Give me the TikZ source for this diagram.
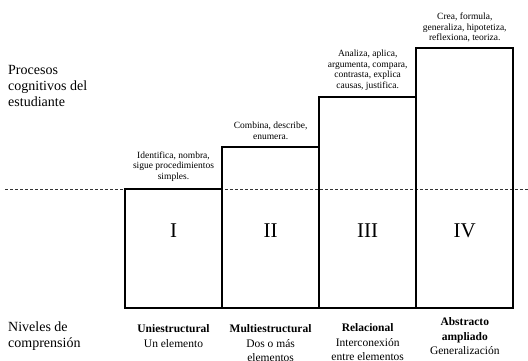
\documentclass[tikz,border=0pt]{standalone}
\usepackage{fontspec}
\setmainfont{Liberation Serif}
\tikzset{
  box/.style={draw, line width=2pt, anchor=south west, minimum width=97.1pt, inner sep=0pt, outer sep=0pt},
  num/.style={font=\fontsize{21}{21}\selectfont, inner sep=0pt},
  verbs/.style={font=\fontsize{9.5}{10.8}\selectfont, align=center, anchor=north, inner sep=0pt},
  level/.style={font=\fontsize{11.5}{14.5}\selectfont, align=center, anchor=north, inner sep=0pt},
  side/.style={font=\fontsize{14}{16}\selectfont, align=left, anchor=north west, inner sep=0pt}
}
\begin{document}
\begin{tikzpicture}[x=1pt,y=-1pt]
\useasboundingbox (0,0) rectangle (528,360);
\coordinate (dl) at (5,189.3); \coordinate (dr) at (528,189.3);
\draw [dash pattern=on 3pt off 2pt, line width=0.5pt, black!80] (dl) -- (dr);
\node [box, minimum height=119pt] (b1) at (125,308.3) {};
\node [box, minimum height=161.6pt] (b2) at (222.1,308.3) {};
\node [box, minimum height=211.6pt] (b3) at (319.2,308.3) {};
\node [box, minimum height=260pt] (b4) at (416.3,308.3) {};
\node [num] (n1) at (173.5,231) {I};
\node [num] (n2) at (270.6,231) {II};
\node [num] (n3) at (367.7,231) {III};
\node [num] (n4) at (464.8,231) {IV};
\node [verbs] (v1) at (173.5,151.3) {Identifica, nombra,\\sigue procedimientos\\simples.};
\node [verbs] (v2) at (270.6,122) {Combina, describe,\\enumera.};
\node [verbs] (v3) at (367.7,49.5) {Analiza, aplica,\\argumenta, compara,\\contrasta, explica\\causas, justifica.};
\node [verbs] (v4) at (464.8,12.5) {Crea, formula,\\generaliza, hipotetiza,\\reflexiona, teoriza.};
\node [side] (procesos) at (8,65.5) {Procesos\\cognitivos del\\estudiante};
\node [side] (niveles) at (8,321.5) {Niveles de\\comprensión};
\node [level] (l1) at (173.5,324.5) {\textbf{Uniestructural}\\Un elemento};
\node [level] (l2) at (270.6,324.5) {\textbf{Multiestructural}\\Dos o más\\elementos};
\node [level] (l3) at (367.7,323.5) {\textbf{Relacional}\\Interconexión\\entre elementos};
\node [level] (l4) at (464.8,317.5) {\textbf{Abstracto}\\\textbf{ampliado}\\Generalización};
\end{tikzpicture}
\end{document}
